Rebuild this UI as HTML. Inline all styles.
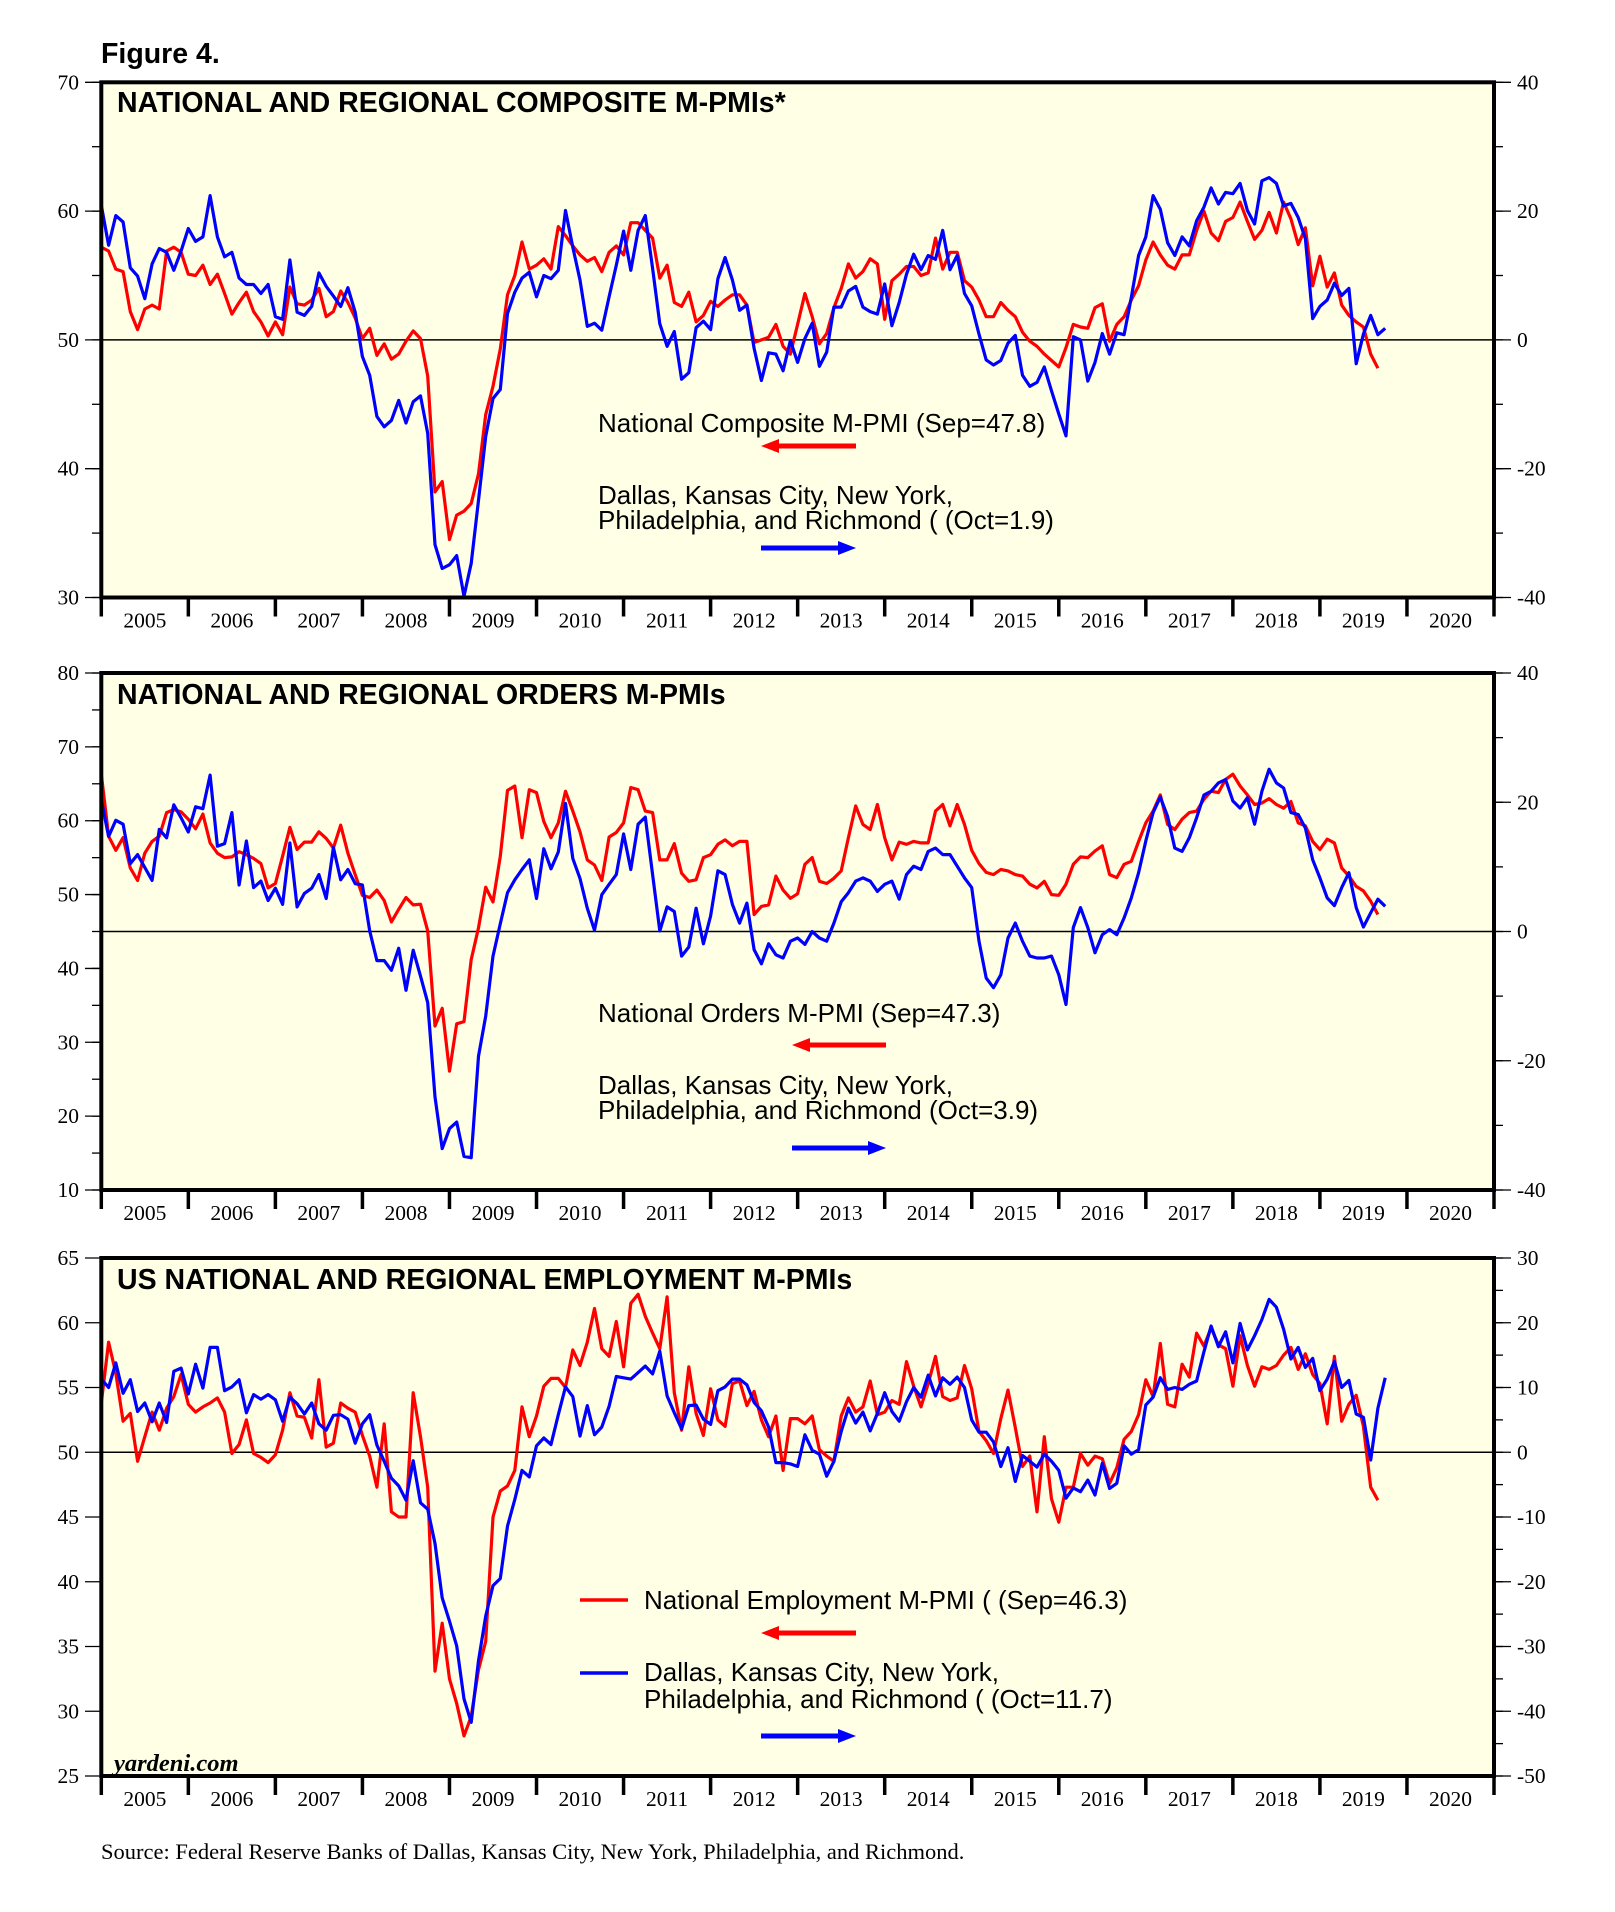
<!DOCTYPE html>
<html><head><meta charset="utf-8"><title>Figure 4</title>
<style>
html,body{margin:0;padding:0;background:#fff;}
svg{display:block;}
.tl{font-family:"Liberation Serif",serif;font-size:21.5px;fill:#000;}
.ttl{font-family:"Liberation Sans",sans-serif;font-weight:bold;font-size:28.5px;fill:#000;}
.lg{font-family:"Liberation Sans",sans-serif;font-size:26px;fill:#000;}
</style></head>
<body>
<svg id="fig" width="1615" height="1912" viewBox="0 0 1615 1912" xmlns="http://www.w3.org/2000/svg">
<text x="101" y="63" font-family="Liberation Sans, sans-serif" font-weight="bold" font-size="28.5">Figure 4.</text>
<g id="c1"></g>
<g id="c2"></g>
<g id="c3"></g>

<text class="ttl" x="117" y="112">NATIONAL AND REGIONAL COMPOSITE M-PMIs*</text>
<text class="lg" x="598" y="432">National Composite M-PMI (Sep=47.8)</text>
<text class="lg" x="598" y="504">Dallas, Kansas City, New York,</text>
<text class="lg" x="598" y="529">Philadelphia, and Richmond ( (Oct=1.9)</text>

<text class="ttl" x="117" y="704">NATIONAL AND REGIONAL ORDERS M-PMIs</text>
<text class="lg" x="598" y="1022">National Orders M-PMI (Sep=47.3)</text>
<text class="lg" x="598" y="1094">Dallas, Kansas City, New York,</text>
<text class="lg" x="598" y="1119">Philadelphia, and Richmond (Oct=3.9)</text>

<text class="ttl" x="117" y="1289">US NATIONAL AND REGIONAL EMPLOYMENT M-PMIs</text>
<line x1="580" y1="1600" x2="628" y2="1600" stroke="#f00" stroke-width="3.5"/>
<text class="lg" x="644" y="1609">National Employment M-PMI ( (Sep=46.3)</text>
<line x1="580" y1="1673" x2="628" y2="1673" stroke="#00f" stroke-width="3.5"/>
<text class="lg" x="644" y="1681">Dallas, Kansas City, New York,</text>
<text class="lg" x="644" y="1708">Philadelphia, and Richmond ( (Oct=11.7)</text>

<text x="114" y="1771" font-family="Liberation Serif, serif" font-style="italic" font-weight="bold" font-size="24.5">yardeni.com</text>
<text x="101" y="1859" font-family="Liberation Serif, serif" font-size="22.5">Source: Federal Reserve Banks of Dallas, Kansas City, New York, Philadelphia, and Richmond.</text>
</svg>
<script>
// monthly data starting Jan 2005
const years = ['2005','2006','2007','2008','2009','2010','2011','2012','2013','2014','2015','2016','2017','2018','2019','2020'];
const c1Left = ['70','60','50','40','30'];
const c1Right = ['40','20','0','-20','-40'];
const c2Left = ['80','70','60','50','40','30','20','10'];
const c2Right = ['40','20','0','-20','-40'];
const c3Left = ['65','60','55','50','45','40','35','30','25'];
const c3Right = ['30','20','10','0','-10','-20','-30','-40','-50'];

const compositeNational = [57.2,56.9,55.5,55.3,52.2,50.8,52.4,52.7,52.4,56.9,57.2,56.8,
55.1,55.0,55.8,54.3,55.1,53.6,52.0,52.9,53.7,52.2,51.4,50.3,
51.4,50.4,54.1,52.8,52.7,53.1,54.0,51.8,52.2,53.8,52.9,51.7,
50.1,50.9,48.8,49.7,48.5,48.9,49.9,50.7,50.1,47.2,38.2,39.0,
34.5,36.4,36.7,37.3,39.6,44.2,46.4,49.3,53.5,55.0,57.6,55.5,
55.8,56.3,55.5,58.8,58.1,57.3,56.6,56.1,56.4,55.3,56.8,57.3,
56.6,59.1,59.1,58.5,57.9,54.8,55.8,52.9,52.6,53.7,51.4,51.9,
53.0,52.6,53.1,53.5,53.5,52.7,49.8,50.0,50.2,51.2,49.5,48.9,
51.2,53.6,51.8,49.7,50.5,52.5,54.0,55.9,54.8,55.3,56.3,55.9,
51.6,54.6,55.1,55.7,55.7,55.0,55.2,57.9,55.5,56.8,56.8,54.6,
54.1,53.1,51.8,51.8,52.9,52.3,51.8,50.6,49.9,49.5,48.9,48.4,
47.9,49.4,51.2,51.0,50.9,52.5,52.8,49.9,51.2,51.8,53.1,54.2,
56.2,57.6,56.6,55.8,55.5,56.6,56.6,58.5,60.0,58.3,57.7,59.2,
59.5,60.7,59.2,57.8,58.5,59.9,58.3,60.7,59.4,57.4,58.7,54.2,
56.5,54.1,55.2,52.7,51.9,51.4,51.0,48.9,47.8];
const compositeRegional = [20.9,14.7,19.3,18.3,11.2,9.9,6.4,11.8,14.2,13.6,10.8,13.8,
17.3,15.3,16.0,22.4,16.0,12.9,13.6,9.6,8.6,8.6,7.2,8.6,
3.6,3.2,12.4,4.3,3.8,5.2,10.4,8.3,6.8,5.2,8.1,4.3,
-2.6,-5.5,-11.9,-13.5,-12.5,-9.4,-12.9,-9.6,-8.7,-14.5,-31.8,-35.5,
-34.9,-33.5,-39.8,-34.7,-24.9,-15.0,-9.1,-7.7,4.1,7.4,9.6,10.5,
6.7,10.0,9.5,10.8,20.1,14.4,9.3,2.1,2.6,1.5,6.7,11.6,
16.9,10.8,17.0,19.3,11.1,2.5,-1.0,1.3,-6.1,-5.1,1.9,2.9,
1.6,9.5,12.8,9.3,4.6,5.4,-1.3,-6.3,-2.0,-2.2,-4.8,-0.1,
-3.5,0.2,2.6,-4.1,-1.9,5.1,5.1,7.6,8.3,5.1,4.4,4.0,
8.7,2.2,5.8,10.2,13.3,10.9,13.1,12.5,17.0,10.9,13.1,7.2,
5.3,0.9,-3.1,-3.9,-3.2,-0.5,0.7,-5.5,-7.2,-6.6,-4.2,-7.9,
-11.5,-14.9,0.5,0,-6.4,-3.5,1.0,-2.2,1.1,0.8,6.6,13.1,
16.0,22.4,20.3,15.1,13.1,16.0,14.6,18.5,20.6,23.6,21.1,22.9,
22.7,24.3,20.1,18.0,24.7,25.2,24.3,20.8,21.2,19.0,15.7,3.3,
5.2,6.2,8.8,6.9,8.0,-3.7,0.9,3.8,0.8,1.8];

const ordersNational = [66.3,57.9,56.0,57.7,53.6,51.9,55.6,57.2,57.9,61.1,61.5,61.2,
60.2,58.9,60.9,57.0,55.6,55.0,55.1,55.8,55.4,54.9,54.2,50.9,
51.5,55.2,59.1,56.1,57.1,57.1,58.5,57.6,56.3,59.4,55.6,52.7,
49.9,49.6,50.6,49.2,46.3,48.0,49.6,48.6,48.7,45.1,32.2,34.6,
26.1,32.5,32.8,41.2,45.5,51.0,49.0,55.2,64.1,64.7,57.7,64.2,
63.8,59.9,57.7,59.7,64.0,61.3,58.5,54.7,54.0,51.9,57.8,58.4,
59.7,64.5,64.2,61.3,61.1,54.7,54.7,56.9,52.9,51.8,52.0,55.0,
55.4,56.8,57.4,56.6,57.2,57.2,47.3,48.4,48.6,52.5,50.6,49.5,
50.1,54.1,55.0,51.8,51.5,52.2,53.2,57.7,62.0,59.5,58.8,62.2,
57.7,54.7,57.1,56.8,57.2,57.0,57.0,61.3,62.2,59.3,62.2,59.5,
56.0,54.2,53.0,52.7,53.4,53.2,52.7,52.5,51.4,50.9,51.8,50.0,
49.9,51.4,54.1,55.1,55.0,55.9,56.6,52.7,52.3,54.1,54.5,57.2,
59.7,61.3,63.5,59.5,58.8,60.2,61.1,61.3,62.9,64.0,63.8,65.6,
66.3,64.7,63.5,62.2,62.4,63.0,62.2,61.7,62.6,59.7,59.3,57.2,
56.1,57.5,57.0,53.6,52.5,51.1,50.5,49.1,47.3];
const ordersRegional = [20.4,14.7,17.2,16.6,10.5,11.9,9.9,7.9,15.8,14.5,19.6,17.6,
15.4,19.3,19.0,24.2,13.2,13.6,18.4,7.2,14.0,6.8,7.8,4.8,
6.7,4.2,13.7,3.8,5.9,6.7,8.8,5.1,13.0,8.0,9.6,7.4,
7.2,0.1,-4.5,-4.5,-6.0,-2.6,-9.1,-2.9,-6.9,-11.0,-25.6,-33.6,
-30.5,-29.5,-34.8,-35.0,-19.3,-13.1,-3.8,1.2,6.0,8.0,9.6,11.1,
5.1,12.8,9.7,12.3,19.8,11.3,8.2,3.6,0.2,5.7,7.3,8.8,
15.1,9.6,16.6,17.7,8.8,0.1,3.8,3.1,-3.8,-2.4,3.6,-1.9,
2.4,9.4,8.8,4.2,1.3,4.4,-2.8,-5.0,-1.9,-3.6,-4.1,-1.5,
-1.0,-2.0,0,-1.0,-1.5,1.3,4.6,6.0,7.8,8.3,7.8,6.2,
7.3,7.8,5.0,8.8,10.1,9.6,12.4,12.9,11.9,11.9,10.1,8.3,
6.8,-1.5,-7.2,-8.7,-6.7,-1.0,1.3,-1.5,-3.8,-4.1,-4.1,-3.8,
-6.7,-11.3,0.6,3.7,0.6,-3.3,-0.5,0.3,-0.5,2.1,5.2,9.1,
14.0,18.4,20.8,17.8,12.9,12.4,14.5,17.6,21.1,21.7,23.0,23.5,
20.2,19.1,20.7,16.6,21.7,25.1,23.0,22.2,18.4,18.1,16.0,11.1,
8.3,5.2,4.0,6.8,9.1,3.7,0.7,2.9,5.0,3.9];

const employmentNational = [53.8,58.5,56.1,52.4,53.0,49.3,51.2,53.1,51.7,53.4,54.3,56.0,
53.7,53.1,53.5,53.8,54.2,53.1,49.9,50.6,52.5,49.9,49.6,49.2,
49.8,51.7,54.6,52.8,52.7,51.1,55.6,50.4,50.7,53.8,53.4,53.1,
51.3,49.7,47.3,52.2,45.4,45.0,45.0,54.6,51.2,47.3,33.1,36.8,
32.5,30.6,28.1,29.6,33.2,35.4,45.0,47.0,47.4,48.6,53.5,51.2,
52.8,55.1,55.7,55.7,55.0,57.9,56.7,58.5,61.1,58.0,57.4,60.1,
56.6,61.5,62.2,60.5,59.2,58.0,62.0,54.6,51.7,56.6,53.0,51.3,
54.9,52.5,52.0,55.3,55.5,53.6,54.7,52.5,51.2,52.8,48.6,52.6,
52.6,52.2,52.8,50.2,49.7,49.3,52.8,54.2,53.1,53.5,55.5,52.9,
53.1,54.0,53.7,57.0,55.1,53.5,55.3,57.4,54.3,54.0,54.2,56.7,
54.9,51.6,50.9,49.9,52.6,54.8,51.9,48.9,49.7,45.4,51.2,46.4,
44.6,47.3,47.3,49.9,49.0,49.7,49.5,47.6,48.8,51.0,51.6,52.9,
55.6,54.3,58.4,53.7,53.5,56.8,55.8,59.2,58.2,59.6,58.3,58.0,
55.1,59.0,56.7,55.1,56.6,56.4,56.7,57.5,58.1,56.4,57.6,56.0,
55.3,52.2,57.4,52.4,53.7,54.4,52.0,47.3,46.3];
const employmentRegional = [11.3,10.0,13.8,9.1,11.2,6.3,7.6,4.7,7.6,4.6,12.5,13.0,
9.0,13.6,9.9,16.2,16.2,9.5,10.1,11.2,6.1,8.9,8.2,8.9,
8.1,4.8,8.5,7.5,5.9,7.6,4.4,3.4,5.7,5.8,5.1,1.4,
4.4,5.8,1.1,-1.4,-4.0,-5.2,-7.4,-1.3,-7.8,-8.8,-14.1,-22.5,
-26.1,-29.9,-38.1,-41.7,-32.2,-25.3,-20.6,-19.5,-11.4,-7.3,-2.8,-3.8,
1.0,2.2,1.2,5.8,10.1,8.6,2.5,7.2,2.7,3.9,7.1,11.7,
11.5,11.3,12.3,13.3,12.1,15.6,8.7,6.1,3.6,7.2,7.3,5.1,
4.3,9.5,10.1,11.3,11.3,10.4,7.7,6.4,3.9,-1.6,-1.6,-1.8,
-2.2,2.7,0.3,-0.3,-3.7,-1.4,3.2,6.8,4.5,6.2,3.3,6.0,
9.2,6.3,4.8,7.8,10.0,8.5,11.9,8.7,11.5,10.5,11.6,10.0,
5.0,3.1,3.1,1.6,-2.2,0.7,-4.5,-0.5,-1.4,-2.3,-0.3,-1.4,
-2.8,-7.1,-5.5,-6.1,-4.3,-6.6,-1.7,-5.6,-4.8,1.0,-0.3,0.4,
7.3,8.5,11.5,9.7,10.0,9.7,10.5,11.0,15.5,19.5,16.3,18.6,
13.8,19.9,15.8,18.0,20.5,23.6,22.4,19.0,14.4,16.2,13.1,14.5,
9.5,11.3,14.0,10.0,11.1,5.9,5.4,-1.2,6.8,11.5];

const NS='http://www.w3.org/2000/svg';
const PL=101.3, PR=1494;
const monthW=(PR-PL)/(years.length*12);
function xM(m){return PL+m*monthW;}
function mk(tag,attrs,parent){const e=document.createElementNS(NS,tag);for(const k in attrs)e.setAttribute(k,attrs[k]);parent.appendChild(e);return e;}

function drawChart(gid,top,bot,lMin,lMax,lLabels,lMinorStep,rMin,rMax,rLabels,rMinorStep,red,blue,zeroLeft,key){
  const g=document.getElementById(gid);
  const yL=v=>bot-(v-lMin)/(lMax-lMin)*(bot-top);
  const yR=v=>bot-(v-rMin)/(rMax-rMin)*(bot-top);
  const bg=mk('rect',{x:PL,y:top,width:PR-PL,height:bot-top,fill:'#ffffe6'},g);
  
  
  const cp=mk('clipPath',{id:gid+'clip'},g);
  mk('rect',{x:PL,y:top,width:PR-PL,height:bot-top},cp);
  const zl=mk('line',{x1:PL,x2:PR,y1:yL(zeroLeft),y2:yL(zeroLeft),stroke:'#000','stroke-width':1.5},g);
  
  
  if(lMinorStep){for(let v=lMin;v<=lMax+1e-6;v+=lMinorStep){mk('line',{x1:92,x2:PL,y1:yL(v),y2:yL(v),stroke:'#000','stroke-width':1.3},g);}}
  lLabels.forEach(s=>{const v=parseFloat(s);const y=yL(v);
    mk('line',{x1:85,x2:PL,y1:y,y2:y,stroke:'#000','stroke-width':1.3},g);
    const t=mk('text',{x:79,y:y+7,'text-anchor':'end',class:'tl'},g);t.textContent=s;
    
    });
  if(rMinorStep){for(let v=rMin;v<=rMax+1e-6;v+=rMinorStep){mk('line',{x1:PR,x2:1503,y1:yR(v),y2:yR(v),stroke:'#000','stroke-width':1.3},g);}}
  rLabels.forEach(s=>{const v=parseFloat(s);const y=yR(v);
    mk('line',{x1:PR,x2:1511,y1:y,y2:y,stroke:'#000','stroke-width':1.3},g);
    const t=mk('text',{x:1517,y:y+7,class:'tl'},g);t.textContent=s;
    
    });
  for(let k=0;k<=years.length;k++){const x=PL+k*12*monthW;
    mk('line',{x1:x,x2:x,y1:bot,y2:bot+19,stroke:'#000','stroke-width':3.5},g);}
  years.forEach((yr,k)=>{const t=mk('text',{x:PL+(k+0.5)*12*monthW,y:bot+30,'text-anchor':'middle',class:'tl'},g);t.textContent=yr;
    
    });
  const lines=mk('g',{'clip-path':'url(#'+gid+'clip)'},g);
  const rp=red.map((v,i)=>xM(i).toFixed(1)+','+yL(v).toFixed(1)).join(' ');
  const r=mk('polyline',{points:rp,fill:'none',stroke:'#ff0000','stroke-width':3.2,'stroke-linejoin':'round'},lines);
  
  
  const bp=blue.map((v,i)=>xM(i).toFixed(1)+','+yR(v).toFixed(1)).join(' ');
  const b=mk('polyline',{points:bp,fill:'none',stroke:'#0000ff','stroke-width':3.2,'stroke-linejoin':'round'},lines);
  
  
  const bd=mk('rect',{x:PL,y:top,width:PR-PL,height:bot-top,fill:'none',stroke:'#000','stroke-width':4},g);
  
  
}
function arrow(x1,x2,y,color,dir,name){
  const svg=document.getElementById('fig');
  const g=mk('g',{},svg);
  
  
  if(dir<0){mk('line',{x1:x1+14,x2:x2,y1:y,y2:y,stroke:color,'stroke-width':5},g);
    mk('polygon',{points:`${x1},${y} ${x1+18},${y-7} ${x1+18},${y+7}`,fill:color},g);}
  else{mk('line',{x1:x1,x2:x2-14,y1:y,y2:y,stroke:color,'stroke-width':5},g);
    mk('polygon',{points:`${x2},${y} ${x2-18},${y-7} ${x2-18},${y+7}`,fill:color},g);}
}
drawChart('c1',82.3,597.5,30,70,c1Left,5,-40,40,c1Right,10,compositeNational,compositeRegional,50,'composite');
drawChart('c2',673,1190,10,80,c2Left,5,-40,40,c2Right,10,ordersNational,ordersRegional,45,'orders');
drawChart('c3',1258,1776,25,65,c3Left,0,-50,30,c3Right,5,employmentNational,employmentRegional,50,'employment');
arrow(761,856,446,'#ff0000',-1,'composite-red-arrow');
arrow(761,856,548,'#0000ff',1,'composite-blue-arrow');
arrow(792,886,1045,'#ff0000',-1,'orders-red-arrow');
arrow(792,886,1148,'#0000ff',1,'orders-blue-arrow');
arrow(761,856,1633,'#ff0000',-1,'employment-red-arrow');
arrow(761,856,1736,'#0000ff',1,'employment-blue-arrow');
const fig=document.getElementById('fig');
Array.from(fig.querySelectorAll(':scope > text, :scope > line')).forEach(el=>fig.appendChild(el));
</script>
</body></html>
